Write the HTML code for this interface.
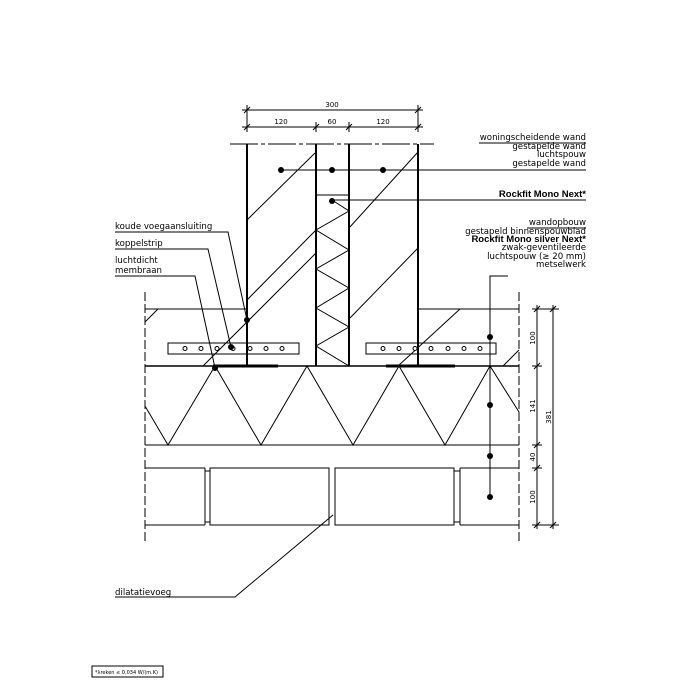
<!DOCTYPE html>
<html><head><meta charset="utf-8"><style>
html,body{margin:0;padding:0;background:#fff;}
svg{display:block;font-family:"DejaVu Sans","Liberation Sans",sans-serif;}
.t{font-size:8.6px;fill:#000;}
.b{font-size:9.5px;font-weight:bold;font-family:"Liberation Sans",sans-serif;}
.d{font-size:7px;}
</style></head><body>
<svg width="700" height="700" viewBox="0 0 700 700" xmlns="http://www.w3.org/2000/svg">
<g stroke="#000" fill="none" stroke-width="1">
<line x1="242" y1="110" x2="423" y2="110"/>
<line x1="242" y1="127" x2="423" y2="127"/>
<line x1="247" y1="105" x2="247" y2="132"/><line x1="418" y1="105" x2="418" y2="132"/>
<line x1="316" y1="122" x2="316" y2="132"/><line x1="349" y1="122" x2="349" y2="132"/>
<line x1="244" y1="113" x2="250" y2="107"/><line x1="415" y1="113" x2="421" y2="107"/>
<line x1="244" y1="130" x2="250" y2="124"/><line x1="313" y1="130" x2="319" y2="124"/>
<line x1="346" y1="130" x2="352" y2="124"/><line x1="415" y1="130" x2="421" y2="124"/>
<line x1="230" y1="144" x2="434" y2="144" stroke-dasharray="28,3,4,3"/>
<line x1="247" y1="144" x2="247" y2="366" stroke-width="2"/>
<line x1="316" y1="144" x2="316" y2="366" stroke-width="2"/>
<line x1="349" y1="144" x2="349" y2="366" stroke-width="2"/>
<line x1="418" y1="144" x2="418" y2="366" stroke-width="2"/>
<line x1="247" y1="220" x2="315" y2="153"/>
<line x1="247" y1="300" x2="316" y2="230"/>
<line x1="203" y1="366" x2="316" y2="253"/>
<line x1="349" y1="228" x2="418" y2="152"/>
<line x1="350" y1="318" x2="418" y2="248"/>
<line x1="398" y1="366" x2="460" y2="309"/>
<line x1="145" y1="322" x2="158" y2="309"/>
<line x1="503" y1="366" x2="519" y2="350"/>
<line x1="316" y1="195" x2="349" y2="195"/>
<polyline points="332,200 349,211 316,230 349,250 316,269 349,288 316,308 349,327 316,346 349,366"/>
<line x1="145" y1="309" x2="247" y2="309"/>
<line x1="418" y1="309" x2="519" y2="309"/>
<line x1="145" y1="366" x2="519" y2="366" stroke-width="1.5"/>
<line x1="213" y1="366" x2="278" y2="366" stroke-width="3"/>
<line x1="386" y1="366" x2="455" y2="366" stroke-width="3"/>
<line x1="145" y1="445" x2="519" y2="445"/>
<polyline points="145,406 168,445 215,366 261,445 307,366 353,445 399,366 445,445 490,366 519,412"/>
<line x1="145" y1="292" x2="145" y2="542" stroke-dasharray="9,3"/>
<line x1="519" y1="292" x2="519" y2="542" stroke-dasharray="9,3"/>
<rect x="168" y="343" width="131" height="11"/>
<rect x="366" y="343" width="130" height="11"/>
<g fill="#fff">
<circle cx="185" cy="348.5" r="2"/><circle cx="201" cy="348.5" r="2"/><circle cx="217" cy="348.5" r="2"/><circle cx="233" cy="348.5" r="2"/><circle cx="250" cy="348.5" r="2"/><circle cx="266" cy="348.5" r="2"/><circle cx="282" cy="348.5" r="2"/>
<circle cx="383" cy="348.5" r="2"/><circle cx="399" cy="348.5" r="2"/><circle cx="415" cy="348.5" r="2"/><circle cx="431" cy="348.5" r="2"/><circle cx="448" cy="348.5" r="2"/><circle cx="464" cy="348.5" r="2"/><circle cx="480" cy="348.5" r="2"/>
</g>
<line x1="145" y1="468" x2="205" y2="468"/><line x1="145" y1="525" x2="205" y2="525"/>
<line x1="205" y1="468" x2="205" y2="525"/>
<rect x="205" y="471" width="5" height="51"/>
<rect x="210" y="468" width="119" height="57"/>
<rect x="335" y="468" width="119" height="57"/>
<rect x="454" y="471" width="6" height="51"/>
<line x1="460" y1="468" x2="519" y2="468"/><line x1="460" y1="525" x2="519" y2="525"/>
<line x1="460" y1="468" x2="460" y2="525"/>
<line x1="537" y1="305" x2="537" y2="529"/>
<line x1="553" y1="305" x2="553" y2="529"/>
<line x1="532" y1="309" x2="559" y2="309"/><line x1="532" y1="366" x2="542" y2="366"/>
<line x1="532" y1="445" x2="542" y2="445"/><line x1="532" y1="468" x2="542" y2="468"/>
<line x1="532" y1="525" x2="559" y2="525"/>
<line x1="534" y1="312" x2="540" y2="306"/><line x1="534" y1="369" x2="540" y2="363"/>
<line x1="534" y1="448" x2="540" y2="442"/><line x1="534" y1="471" x2="540" y2="465"/>
<line x1="534" y1="528" x2="540" y2="522"/><line x1="550" y1="312" x2="556" y2="306"/><line x1="550" y1="528" x2="556" y2="522"/>
<line x1="280" y1="170" x2="586" y2="170"/>
<line x1="332" y1="200" x2="586" y2="200"/>
<line x1="479" y1="143" x2="586" y2="143"/>
<line x1="527" y1="228" x2="586" y2="228"/>
<polyline points="115,232 228,232 247,320"/>
<polyline points="115,249 208,249 231,347"/>
<polyline points="115,276 195,276 215,368"/>
<polyline points="508,276 490,276 490,497"/>
<polyline points="115,597 235,597 333,515"/>
<rect x="92" y="666" width="71" height="11"/>
</g>
<g fill="#000">
<circle cx="281" cy="170" r="3"/><circle cx="332" cy="170" r="3"/><circle cx="383" cy="170" r="3"/>
<circle cx="332" cy="201" r="3"/><circle cx="247" cy="320" r="3"/><circle cx="231" cy="347" r="3"/>
<circle cx="215" cy="368" r="3"/><circle cx="490" cy="337" r="3"/><circle cx="490" cy="405" r="3"/>
<circle cx="490" cy="456" r="3"/><circle cx="490" cy="497" r="3"/>
</g>
<g class="t">
<text x="332" y="107" class="d" text-anchor="middle">300</text>
<text x="281" y="124" class="d" text-anchor="middle">120</text>
<text x="332" y="124" class="d" text-anchor="middle">60</text>
<text x="383" y="124" class="d" text-anchor="middle">120</text>
<g text-anchor="end">
<text x="586" y="140">woningscheidende wand</text>
<text x="586" y="149">gestapelde wand</text>
<text x="586" y="157">luchtspouw</text>
<text x="586" y="166">gestapelde wand</text>
<text x="586" y="197" class="b">Rockfit Mono Next*</text>
<text x="586" y="225">wandopbouw</text>
<text x="586" y="234">gestapeld binnenspouwblad</text>
<text x="586" y="242" class="b">Rockfit Mono silver Next*</text>
<text x="586" y="250">zwak-geventileerde</text>
<text x="586" y="259">luchtspouw (≥ 20 mm)</text>
<text x="586" y="267">metselwerk</text>
</g>
<text x="115" y="229">koude voegaansluiting</text>
<text x="115" y="246">koppelstrip</text>
<text x="115" y="263">luchtdicht</text>
<text x="115" y="273">membraan</text>
<text x="115" y="595">dilatatievoeg</text>
<text x="95" y="674" style="font-size:5px">*λreken ≤ 0,034 W/(m.K)</text>
<g class="d">
<text transform="translate(535,338) rotate(-90)" text-anchor="middle">100</text>
<text transform="translate(535,406) rotate(-90)" text-anchor="middle">141</text>
<text transform="translate(535,457) rotate(-90)" text-anchor="middle">40</text>
<text transform="translate(535,497) rotate(-90)" text-anchor="middle">100</text>
<text transform="translate(551,417) rotate(-90)" text-anchor="middle">381</text>
</g>
</g>
</svg>
</body></html>
